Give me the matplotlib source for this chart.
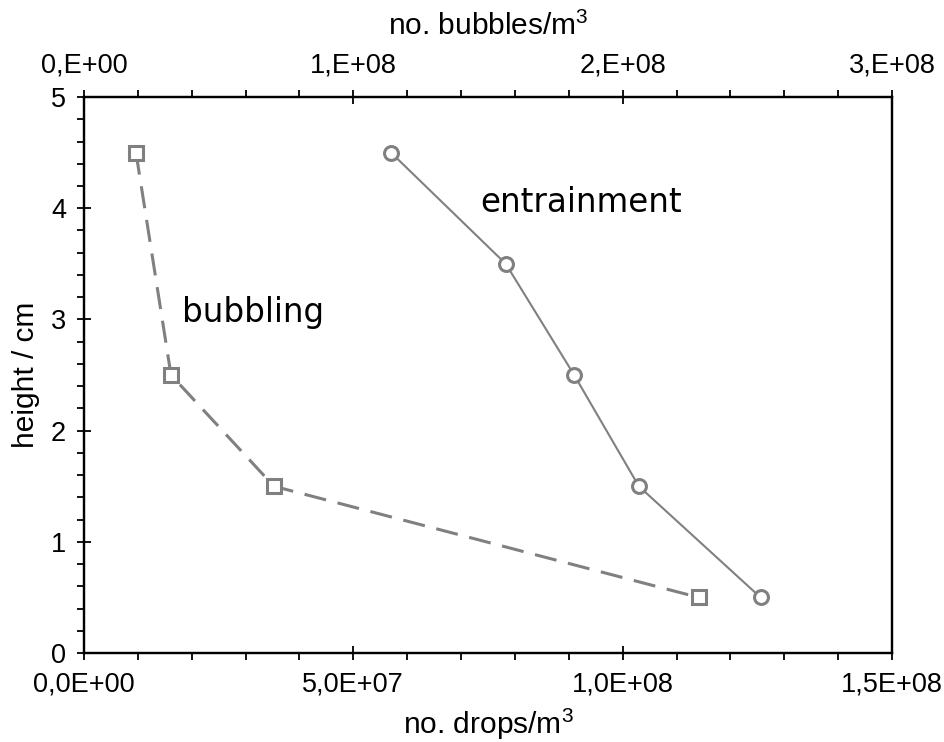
import matplotlib
matplotlib.use("Agg")
import matplotlib.pyplot as plt
from matplotlib import font_manager
from matplotlib.ticker import FixedLocator, MultipleLocator

# Measured profiles over column height
height_cm = [4.5, 3.5, 2.5, 1.5, 0.5]
drops_entrainment = [5.70e7, 7.83e7, 9.10e7, 1.030e8, 1.256e8]   # no. drops/m3

height_bub = [4.5, 2.5, 1.5, 0.5]
bubbles_bubbling = [1.93e7, 3.23e7, 7.05e7, 2.282e8]              # no. bubbles/m3

drops_ticks = [0, 5e7, 1e8, 1.5e8]
drops_ticklabels = ["0,0E+00", "5,0E+07", "1,0E+08", "1,5E+08"]
bubbles_ticks = [0, 1e8, 2e8, 3e8]
bubbles_ticklabels = ["0,E+00", "1,E+08", "2,E+08", "3,E+08"]
height_ticks = [0, 1, 2, 3, 4, 5]

GREY = "#808080"

available = {f.name for f in font_manager.fontManager.ttflist}
if "Liberation Sans Narrow" in available:
    tick_font, tick_size = "Liberation Sans Narrow", 22
else:
    tick_font, tick_size = "Liberation Sans", 19.5

plt.rcParams["font.family"] = ["Liberation Sans", "DejaVu Sans"]
plt.rcParams["mathtext.fontset"] = "custom"
plt.rcParams["mathtext.rm"] = "Liberation Sans"
plt.rcParams["mathtext.it"] = "Liberation Sans:italic"
plt.rcParams["mathtext.default"] = "regular"
plt.rcParams["lines.scale_dashes"] = False

fig = plt.figure(figsize=(9.44, 7.42), dpi=100)
ax = fig.add_axes([0.0890, 0.1199, 0.8559, 0.7493])
ax_top = ax.twiny()

# entrainment: drops, bottom axis
ax.plot(drops_entrainment, height_cm, color=GREY, lw=1.5, marker="o",
        ms=10, mew=2.2, mfc="white", mec=GREY, zorder=3)
# bubbling: bubbles, top axis
ax_top.plot(bubbles_bubbling, height_bub, color=GREY, lw=2.2, dashes=(16, 8.5),
            marker="s", ms=9.4, mew=2.2, mfc="white", mec=GREY, zorder=3)

ax.set_xlim(0, 1.5e8)
ax.set_ylim(0, 5)
ax_top.set_xlim(0, 3e8)

ax.xaxis.set_major_locator(FixedLocator(drops_ticks))
ax.set_xticklabels(drops_ticklabels)
ax.xaxis.set_minor_locator(MultipleLocator(1e7))
ax.yaxis.set_major_locator(FixedLocator(height_ticks))
ax.yaxis.set_minor_locator(MultipleLocator(0.2))
ax_top.xaxis.set_major_locator(FixedLocator(bubbles_ticks))
ax_top.set_xticklabels(bubbles_ticklabels)
ax_top.xaxis.set_minor_locator(MultipleLocator(2e7))

for a in (ax, ax_top):
    for s in a.spines.values():
        s.set_linewidth(1.6)
        s.set_color("black")
    a.tick_params(which="major", direction="inout", length=10, width=1.3,
                  pad=8, colors="black")
    a.tick_params(which="minor", direction="out", length=5, width=1.3)
    for lab in a.get_xticklabels() + a.get_yticklabels():
        lab.set_fontfamily(tick_font)
        lab.set_fontsize(tick_size)

ax.tick_params(axis="x", which="both", top=False)
ax.tick_params(axis="y", which="both", right=False)
ax_top.tick_params(axis="x", which="both", bottom=False)

ax.set_xlabel("no. drops/m$^3$", fontsize=21.5, labelpad=7)
ax.set_ylabel("height / cm", fontsize=21.5, labelpad=8)
ax_top.set_xlabel("no. bubbles/m$^3$", fontsize=21.5, labelpad=13)

ax.text(1.82e7, 2.98, "bubbling", fontsize=23.5, family="DejaVu Sans",
        ha="left", va="baseline", color="black")
ax.text(7.35e7, 3.97, "entrainment", fontsize=23.5, family="DejaVu Sans",
        ha="left", va="baseline", color="black")

fig.savefig("out.png", dpi=100)
